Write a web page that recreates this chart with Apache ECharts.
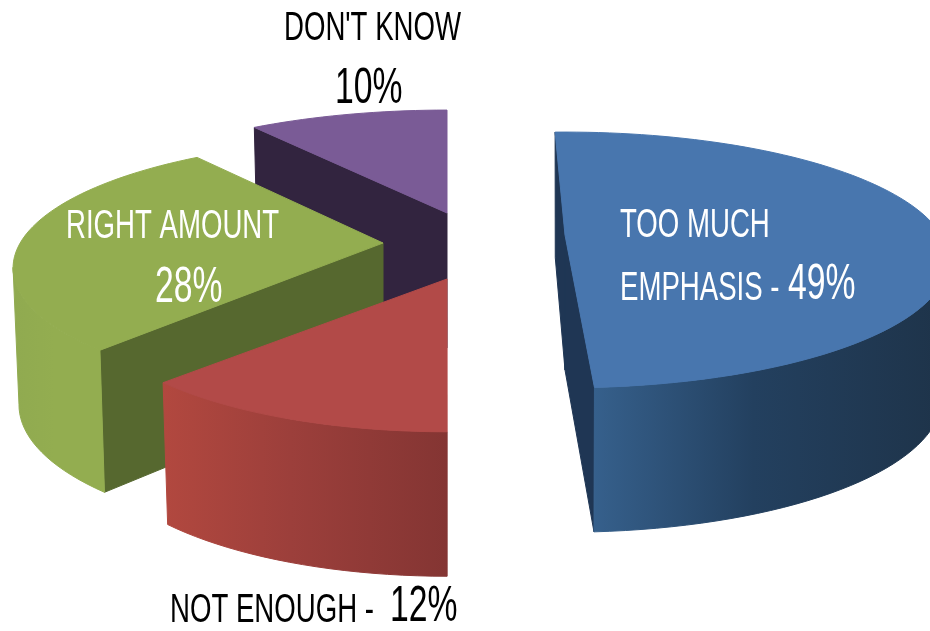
<!DOCTYPE html>
<html>
<head>
<meta charset="utf-8">
<style>html,body{margin:0;padding:0;background:#fff}#c{width:930px;height:631px}</style>
<script src="https://cdn.jsdelivr.net/npm/echarts@6/dist/echarts.min.js"></script>
</head>
<body>
<div id="c"></div>
<script>
// Data, clockwise from 12 o'clock
const categories = ["TOO MUCH EMPHASIS", "NOT ENOUGH", "RIGHT AMOUNT", "DON'T KNOW"];
const shares = [49, 12, 28, 10];
const nameLines = [["TOO MUCH", "EMPHASIS -"], ["NOT ENOUGH -"], ["RIGHT AMOUNT"], ["DON'T KNOW"]];

// Styling and layout only
const topColors = ["#4876ae", "#b24a48", "#93ad50", "#7a5b96"];
const wallColors = ["#1f3654", "#843533", "#56682f", "#32243f"];
const sideStops = [
  ["#36608c", "#23405f", "#1e3349"],
  ["#b2483f", "#9c3f3b", "#843533"],
  ["#90aa50", "#93ad50", "#93ad50"],
  ["#32243f", "#32243f", "#32243f"]
];
const apexX = [565, 447, 383, 447];
const apexY = [235, 279, 243, 213];
const sliceTurn = [-1.8, 1.8, 0, 0];
const radiusScale = [1, 0.94, 0.965, 1];
const wallEdges = [[0, 1], [], [0], [0]];     // 0 = wedge start edge, 1 = wedge end edge
const nameX = [[620, 620], [170], [66], [284]];
const nameBase = [[240, 303], [625], [241], [43]];
const pctX = [788, 390, 155, 335];
const pctBase = [303, 625, 306, 107];
const NAME_SIZE = 40, PCT_SIZE = 50, SQUEEZE = 0.69, PCT_SQUEEZE = 0.675;
const R = 376, RY = 123, PERSP = 0.195, DEPTH = 135;
const RIM_FROM = 101, RIM_TO = 259;

const total = shares.reduce((a, b) => a + b, 0);
const starts = [];
shares.reduce((acc, v, i) => { starts[i] = acc; return acc + v; }, 0);

function project(i, deg, drop) {
  const t = (deg + sliceTurn[i]) * Math.PI / 180;
  const u = Math.sin(t), v = -Math.cos(t);
  const s = 1 / (1 - PERSP * v);
  const X = R * radiusScale[i] * u * s, Y = RY * v * s;
  return drop
    ? [apexX[i] + X * 0.984, apexY[i] + Y + DEPTH * (1 + 0.07 * v)]
    : [apexX[i] + X, apexY[i] + Y];
}
function apex(i, drop) {
  return [apexX[i], apexY[i] + (drop ? DEPTH : 0)];
}
function arc(i, a, b, drop) {
  const pts = [];
  const n = Math.max(2, Math.ceil(Math.abs(b - a) / 2));
  for (let k = 0; k <= n; k++) pts.push(project(i, a + (b - a) * k / n, drop));
  return pts;
}
function label(text, x, base, size, color, squeeze) {
  return {
    type: 'text', x: x, y: base - 0.358 * size, scaleX: squeeze, z2: 20,
    style: {
      text: text, fill: color, fontFamily: 'Liberation Sans, Arial, sans-serif',
      fontSize: size, align: 'left', verticalAlign: 'middle'
    }
  };
}

function renderItem(params, api) {
  const i = api.value(0);
  const a = starts[i] / total * 360;
  const b = (starts[i] + shares[i]) / total * 360;
  const kids = [];
  const stops = sideStops[i];
  const topArc = arc(i, a, b, false);

  // radial walls of the wedge that face the viewer
  wallEdges[i].forEach(e => {
    const d = e === 0 ? a : b;
    kids.push({
      type: 'polygon',
      shape: { points: [project(i, d, false), apex(i, false), apex(i, true), project(i, d, true)] },
      style: { fill: wallColors[i], stroke: wallColors[i], lineWidth: 1 }
    });
  });
  // rim, front half only
  if (i !== 3) {
    const ra = Math.max(a, RIM_FROM), rb = Math.min(b, RIM_TO);
    const upper = arc(i, ra, rb, false), lower = arc(i, ra, rb, true);
    const grad = () => new echarts.graphic.LinearGradient(0, 0, 1, 0, [
      { offset: 0, color: stops[0] }, { offset: 0.45, color: stops[1] }, { offset: 1, color: stops[2] }
    ]);
    kids.push({
      type: 'polygon',
      shape: { points: upper.concat(lower.slice().reverse()) },
      style: { fill: grad(), stroke: grad(), lineWidth: 1 }
    });
  }
  // top face
  kids.push({
    type: 'polygon',
    shape: { points: [apex(i, false)].concat(topArc) },
    style: { fill: topColors[i], stroke: topColors[i], lineWidth: 1 }
  });
  // labels
  const col = (i === 0 || i === 2) ? '#ffffff' : '#000000';
  nameLines[i].forEach((t, k) => kids.push(label(t, nameX[i][k], nameBase[i][k], NAME_SIZE, col, SQUEEZE)));
  kids.push(label(shares[i] + '%', pctX[i], pctBase[i], PCT_SIZE, col, PCT_SQUEEZE));
  return { type: 'group', children: kids };
}

const chart = echarts.init(document.getElementById('c'), null, { renderer: 'canvas' });
chart.setOption({
  animation: false,
  backgroundColor: '#ffffff',
  series: [{
    type: 'custom',
    coordinateSystem: 'none',
    silent: true,
    renderItem: renderItem,
    // painted back to front
    data: [[3, shares[3]], [2, shares[2]], [1, shares[1]], [0, shares[0]]]
  }]
});
</script>
</body>
</html>
